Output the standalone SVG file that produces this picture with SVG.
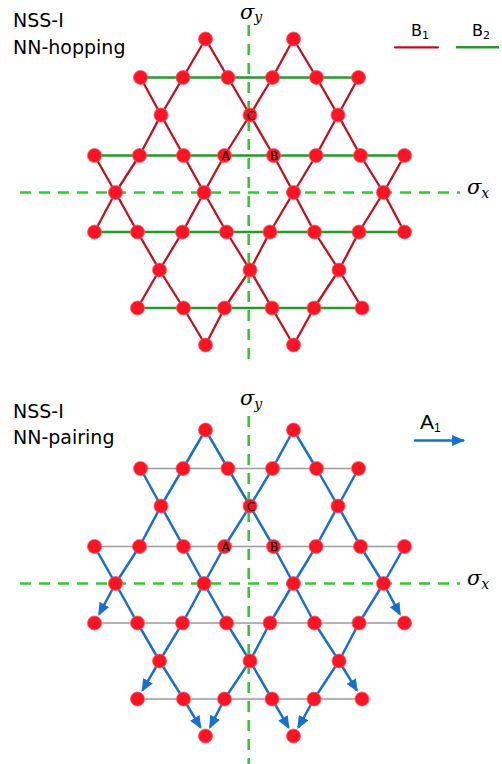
<svg xmlns="http://www.w3.org/2000/svg" width="502" height="764" viewBox="0 0 502 764">
<style>
.bg{fill:#ffffff}
.dash{stroke:#2ecc2e;stroke-width:2.6;stroke-dasharray:11 8;fill:none}
.b1{stroke:#c0111f;stroke-width:2.3;fill:none;stroke-linecap:round}
.b2{stroke:#25992b;stroke-width:2.5;fill:none}
.bl{stroke:#1a6ecd;stroke-width:2.5;fill:none;stroke-linecap:round}
.gr{stroke:#9a9a9a;stroke-width:1.3;fill:none}
.nd{fill:#fc1424;stroke:#ff5a66;stroke-width:0.8}
.lab{font-family:"DejaVu Sans",sans-serif;font-size:19px;fill:#000}
.sig{font-family:"DejaVu Serif",serif;font-style:italic;font-size:21px;fill:#000}
.sub{font-size:14px}
.let{font-family:"DejaVu Sans",sans-serif;font-size:12px;fill:#000;text-anchor:middle}
.leg{font-family:"DejaVu Sans",sans-serif;font-size:16px;fill:#000}
</style>
<defs>
<marker id="ah" markerUnits="userSpaceOnUse" markerWidth="13" markerHeight="11" refX="11" refY="5.5" orient="auto">
<path d="M0,0 L13,5.5 L0,11 z" fill="#1a6ecd"/>
</marker>
</defs>
<rect class="bg" x="0" y="0" width="502" height="764"/>

<!-- ============ TOP DIAGRAM ============ -->
<g id="top">
<text class="lab" x="13" y="27">NSS-I</text>
<text class="lab" x="13" y="54">NN-hopping</text>
<g id="top-axes">
<line class="dash" x1="20" y1="192.5" x2="460" y2="192.5"/>
<line class="dash" x1="248.7" y1="25" x2="248.7" y2="362"/>
<text class="sig" x="240" y="19" font-size="19">σ<tspan class="sub" font-size="13" dy="3">y</tspan></text>
<text class="sig" x="467" y="194">σ<tspan class="sub" dy="4">x</tspan></text>
</g>
<g id="top-legend">
<text class="leg" x="411" y="36">B<tspan font-size="11" dy="3">1</tspan></text>
<line class="b1" x1="395" y1="47.3" x2="438" y2="47.3" stroke-linecap="butt"/>
<text class="leg" x="472" y="36">B<tspan font-size="11" dy="3">2</tspan></text>
<line class="b2" x1="456" y1="47.3" x2="499" y2="47.3"/>
</g>
<g id="top-connectors">
<path class="b2" d="M140.5,77.5 H358.5 M94.5,155.5 H404.5 M94.5,232 H404.5 M137.5,308 H362"/>
<path class="b1" d="
M205.5,39 L183,77.5 M205.5,39 L228,77.5 M293.5,39 L272.5,77.5 M293.5,39 L316.5,77.5
M140.5,77.5 L161,115 M183,77.5 L161,115 M228,77.5 L250,115 M272.5,77.5 L250,115 M316.5,77.5 L338,115 M358.5,77.5 L338,115
M161,115 L139.5,155.5 M161,115 L183.5,155.5 M250,115 L224.5,155.5 M250,115 L273.5,155.5 M338,115 L316,155.5 M338,115 L360.5,155.5
M94.5,155.5 L115.5,192.5 M139.5,155.5 L115.5,192.5 M183.5,155.5 L204,192.5 M224.5,155.5 L204,192.5 M273.5,155.5 L293.5,192.5 M316,155.5 L293.5,192.5 M360.5,155.5 L383.5,192.5 M404.5,155.5 L383.5,192.5
M115.5,192.5 L94.5,232 M115.5,192.5 L137.5,232 M204,192.5 L182.5,232 M204,192.5 L226.5,232 M293.5,192.5 L270,232 M293.5,192.5 L314.5,232 M383.5,192.5 L359,232 M383.5,192.5 L404.5,232
M137.5,232 L159.5,270 M182.5,232 L159.5,270 M226.5,232 L250,270 M270,232 L250,270 M314.5,232 L339,270 M359,232 L339,270
M159.5,270 L137.5,308 M159.5,270 L183.5,308 M250,270 L224.5,308 M250,270 L272,308 M339,270 L314,308 M339,270 L362,308
M183.5,308 L205.5,345 M224.5,308 L205.5,345 M272,308 L293.5,345 M314,308 L293.5,345"/>
</g>
<g id="top-nodes">
<g id="t-a0"><circle class="nd" cx="205.5" cy="39" r="7"/></g>
<g id="t-a1"><circle class="nd" cx="293.5" cy="39" r="7"/></g>
<g id="t-b0"><circle class="nd" cx="140.5" cy="77.5" r="7"/></g>
<g id="t-b1"><circle class="nd" cx="183" cy="77.5" r="7"/></g>
<g id="t-b2"><circle class="nd" cx="228" cy="77.5" r="7"/></g>
<g id="t-b3"><circle class="nd" cx="272.5" cy="77.5" r="7"/></g>
<g id="t-b4"><circle class="nd" cx="316.5" cy="77.5" r="7"/></g>
<g id="t-b5"><circle class="nd" cx="358.5" cy="77.5" r="7"/></g>
<g id="t-c0"><circle class="nd" cx="161" cy="115" r="7"/></g>
<g id="t-C"><circle class="nd" cx="250" cy="115" r="7"/><text class="let" x="251" y="119.5">C</text></g>
<g id="t-c2"><circle class="nd" cx="338" cy="115" r="7"/></g>
<g id="t-d0"><circle class="nd" cx="94.5" cy="155.5" r="7"/></g>
<g id="t-d1"><circle class="nd" cx="139.5" cy="155.5" r="7"/></g>
<g id="t-d2"><circle class="nd" cx="183.5" cy="155.5" r="7"/></g>
<g id="t-A"><circle class="nd" cx="224.5" cy="155.5" r="7"/><text class="let" x="225.5" y="160">A</text></g>
<g id="t-B"><circle class="nd" cx="273.5" cy="155.5" r="7"/><text class="let" x="274" y="160">B</text></g>
<g id="t-d5"><circle class="nd" cx="316" cy="155.5" r="7"/></g>
<g id="t-d6"><circle class="nd" cx="360.5" cy="155.5" r="7"/></g>
<g id="t-d7"><circle class="nd" cx="404.5" cy="155.5" r="7"/></g>
<g id="t-e0"><circle class="nd" cx="115.5" cy="192.5" r="7"/></g>
<g id="t-e1"><circle class="nd" cx="204" cy="192.5" r="7"/></g>
<g id="t-e2"><circle class="nd" cx="293.5" cy="192.5" r="7"/></g>
<g id="t-e3"><circle class="nd" cx="383.5" cy="192.5" r="7"/></g>
<g id="t-f0"><circle class="nd" cx="94.5" cy="232" r="7"/></g>
<g id="t-f1"><circle class="nd" cx="137.5" cy="232" r="7"/></g>
<g id="t-f2"><circle class="nd" cx="182.5" cy="232" r="7"/></g>
<g id="t-f3"><circle class="nd" cx="226.5" cy="232" r="7"/></g>
<g id="t-f4"><circle class="nd" cx="270" cy="232" r="7"/></g>
<g id="t-f5"><circle class="nd" cx="314.5" cy="232" r="7"/></g>
<g id="t-f6"><circle class="nd" cx="359" cy="232" r="7"/></g>
<g id="t-f7"><circle class="nd" cx="404.5" cy="232" r="7"/></g>
<g id="t-g0"><circle class="nd" cx="159.5" cy="270" r="7"/></g>
<g id="t-g1"><circle class="nd" cx="250" cy="270" r="7"/></g>
<g id="t-g2"><circle class="nd" cx="339" cy="270" r="7"/></g>
<g id="t-h0"><circle class="nd" cx="137.5" cy="308" r="7"/></g>
<g id="t-h1"><circle class="nd" cx="183.5" cy="308" r="7"/></g>
<g id="t-h2"><circle class="nd" cx="224.5" cy="308" r="7"/></g>
<g id="t-h3"><circle class="nd" cx="272" cy="308" r="7"/></g>
<g id="t-h4"><circle class="nd" cx="314" cy="308" r="7"/></g>
<g id="t-h5"><circle class="nd" cx="362" cy="308" r="7"/></g>
<g id="t-i0"><circle class="nd" cx="205.5" cy="345" r="7"/></g>
<g id="t-i1"><circle class="nd" cx="293.5" cy="345" r="7"/></g>
</g>
</g>

<!-- ============ BOTTOM DIAGRAM ============ -->
<g id="bottom">
<text class="lab" x="13" y="418">NSS-I</text>
<text class="lab" x="13" y="444">NN-pairing</text>
<g id="bottom-legend">
<text x="420" y="429" font-family="'Liberation Sans',sans-serif" font-size="21" fill="#000">A<tspan font-size="12" dy="3">1</tspan></text>
<line class="bl" x1="415" y1="440.5" x2="463" y2="440.5" stroke-linecap="butt" marker-end="url(#ah)"/>
</g>
<g transform="translate(0,391)">
<g id="bottom-axes">
<line class="dash" x1="20" y1="192.5" x2="460" y2="192.5"/>
<line class="dash" x1="248.7" y1="25" x2="248.7" y2="373"/>
<text class="sig" x="240" y="14">σ<tspan class="sub" dy="4">y</tspan></text>
<text class="sig" x="467" y="194">σ<tspan class="sub" dy="4">x</tspan></text>
</g>
<g id="bottom-connectors">
<path class="gr" d="M140.5,77.5 H358.5 M94.5,155.5 H404.5"/>
<path class="gr" stroke="#bdbdbd" d="M94.5,232 H404.5"/>
<path class="gr" stroke="#7a7a7a" d="M137.5,308 H362"/>
<path class="bl" d="
M205.5,39 L183,77.5 M205.5,39 L228,77.5 M293.5,39 L272.5,77.5 M293.5,39 L316.5,77.5
M140.5,77.5 L161,115 M183,77.5 L161,115 M228,77.5 L250,115 M272.5,77.5 L250,115 M316.5,77.5 L338,115 M358.5,77.5 L338,115
M161,115 L139.5,155.5 M161,115 L183.5,155.5 M250,115 L224.5,155.5 M250,115 L273.5,155.5 M338,115 L316,155.5 M338,115 L360.5,155.5
M94.5,155.5 L115.5,192.5 M139.5,155.5 L115.5,192.5 M183.5,155.5 L204,192.5 M224.5,155.5 L204,192.5 M273.5,155.5 L293.5,192.5 M316,155.5 L293.5,192.5 M360.5,155.5 L383.5,192.5 M404.5,155.5 L383.5,192.5
M115.5,192.5 L137.5,232 M204,192.5 L182.5,232 M204,192.5 L226.5,232 M293.5,192.5 L270,232 M293.5,192.5 L314.5,232 M383.5,192.5 L359,232
M137.5,232 L159.5,270 M182.5,232 L159.5,270 M226.5,232 L250,270 M270,232 L250,270 M314.5,232 L339,270 M359,232 L339,270
M159.5,270 L183.5,308 M250,270 L224.5,308 M250,270 L272,308 M339,270 L314,308"/>
<g class="bl" style="stroke-linecap:butt">
<line x1="115.5" y1="192.5" x2="99.2" y2="223.2" marker-end="url(#ah)"/>
<line x1="383.5" y1="192.5" x2="399.8" y2="223.2" marker-end="url(#ah)"/>
<line x1="159.5" y1="270" x2="142.5" y2="299.3" marker-end="url(#ah)"/>
<line x1="339" y1="270" x2="356.8" y2="299.4" marker-end="url(#ah)"/>
<line x1="183.5" y1="308" x2="200.4" y2="336.4" marker-end="url(#ah)"/>
<line x1="224.5" y1="308" x2="210.1" y2="336.1" marker-end="url(#ah)"/>
<line x1="272" y1="308" x2="288.5" y2="336.4" marker-end="url(#ah)"/>
<line x1="314" y1="308" x2="298.3" y2="336.3" marker-end="url(#ah)"/>
</g>
</g>
<g id="bottom-nodes">
<g id="b-a0"><circle class="nd" cx="205.5" cy="39" r="7"/></g>
<g id="b-a1"><circle class="nd" cx="293.5" cy="39" r="7"/></g>
<g id="b-b0"><circle class="nd" cx="140.5" cy="77.5" r="7"/></g>
<g id="b-b1"><circle class="nd" cx="183" cy="77.5" r="7"/></g>
<g id="b-b2"><circle class="nd" cx="228" cy="77.5" r="7"/></g>
<g id="b-b3"><circle class="nd" cx="272.5" cy="77.5" r="7"/></g>
<g id="b-b4"><circle class="nd" cx="316.5" cy="77.5" r="7"/></g>
<g id="b-b5"><circle class="nd" cx="358.5" cy="77.5" r="7"/></g>
<g id="b-c0"><circle class="nd" cx="161" cy="115" r="7"/></g>
<g id="b-C"><circle class="nd" cx="250" cy="115" r="7"/><text class="let" x="251" y="119.5">C</text></g>
<g id="b-c2"><circle class="nd" cx="338" cy="115" r="7"/></g>
<g id="b-d0"><circle class="nd" cx="94.5" cy="155.5" r="7"/></g>
<g id="b-d1"><circle class="nd" cx="139.5" cy="155.5" r="7"/></g>
<g id="b-d2"><circle class="nd" cx="183.5" cy="155.5" r="7"/></g>
<g id="b-A"><circle class="nd" cx="224.5" cy="155.5" r="7"/><text class="let" x="225.5" y="160">A</text></g>
<g id="b-B"><circle class="nd" cx="273.5" cy="155.5" r="7"/><text class="let" x="274" y="160">B</text></g>
<g id="b-d5"><circle class="nd" cx="316" cy="155.5" r="7"/></g>
<g id="b-d6"><circle class="nd" cx="360.5" cy="155.5" r="7"/></g>
<g id="b-d7"><circle class="nd" cx="404.5" cy="155.5" r="7"/></g>
<g id="b-e0"><circle class="nd" cx="115.5" cy="192.5" r="7"/></g>
<g id="b-e1"><circle class="nd" cx="204" cy="192.5" r="7"/></g>
<g id="b-e2"><circle class="nd" cx="293.5" cy="192.5" r="7"/></g>
<g id="b-e3"><circle class="nd" cx="383.5" cy="192.5" r="7"/></g>
<g id="b-f0"><circle class="nd" cx="94.5" cy="232" r="7"/></g>
<g id="b-f1"><circle class="nd" cx="137.5" cy="232" r="7"/></g>
<g id="b-f2"><circle class="nd" cx="182.5" cy="232" r="7"/></g>
<g id="b-f3"><circle class="nd" cx="226.5" cy="232" r="7"/></g>
<g id="b-f4"><circle class="nd" cx="270" cy="232" r="7"/></g>
<g id="b-f5"><circle class="nd" cx="314.5" cy="232" r="7"/></g>
<g id="b-f6"><circle class="nd" cx="359" cy="232" r="7"/></g>
<g id="b-f7"><circle class="nd" cx="404.5" cy="232" r="7"/></g>
<g id="b-g0"><circle class="nd" cx="159.5" cy="270" r="7"/></g>
<g id="b-g1"><circle class="nd" cx="250" cy="270" r="7"/></g>
<g id="b-g2"><circle class="nd" cx="339" cy="270" r="7"/></g>
<g id="b-h0"><circle class="nd" cx="137.5" cy="308" r="7"/></g>
<g id="b-h1"><circle class="nd" cx="183.5" cy="308" r="7"/></g>
<g id="b-h2"><circle class="nd" cx="224.5" cy="308" r="7"/></g>
<g id="b-h3"><circle class="nd" cx="272" cy="308" r="7"/></g>
<g id="b-h4"><circle class="nd" cx="314" cy="308" r="7"/></g>
<g id="b-h5"><circle class="nd" cx="362" cy="308" r="7"/></g>
<g id="b-i0"><circle class="nd" cx="205.5" cy="345" r="7"/></g>
<g id="b-i1"><circle class="nd" cx="293.5" cy="345" r="7"/></g>
</g>
</g>
</g>
</svg>
